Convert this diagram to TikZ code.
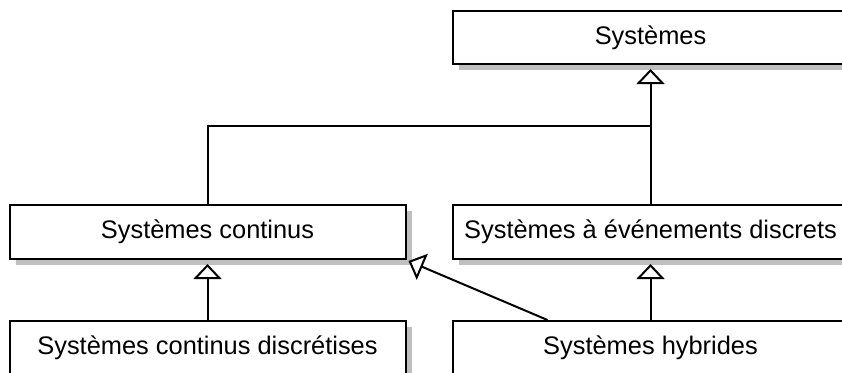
\documentclass[tikz,border=0pt]{standalone}
\usepackage{fontspec}
\setmainfont{Liberation Sans}
\usetikzlibrary{arrows.meta,shadows,calc}
\tikzset{
  cls/.style={draw=black, line width=2pt, fill=white,
    minimum width=396pt, minimum height=54pt, inner sep=0pt,
    font=\fontsize{25.4}{30}\selectfont,
    drop shadow={shadow xshift=6pt, shadow yshift=-6pt, fill=black!25, opacity=1}},
  link/.style={line width=2pt, draw=black},
  gen/.style={link, -{Triangle[open, width=28pt, length=15pt, fill=white]}}
}
\begin{document}
\begin{tikzpicture}[x=1pt, y=-1pt]
  \useasboundingbox (0,0) rectangle (842,372);
  \clip (0,0) rectangle (842,372);

  % classes
  \node[cls, minimum height=53pt] (sys) at (650.5,37.5) {Systèmes};
  \node[cls] (cont) at (207.5,232) {Systèmes continus};
  \node[cls] (sed)  at (650.5,232) {Systèmes à événements discrets};
  \node[cls] (disc) at (207.5,348) {Systèmes continus discrétises};
  \node[cls] (hyb)  at (650.5,348) {Systèmes hybrides};

  % generalisation links
  \coordinate (join) at (650.5,126);
  \draw[link] (cont.north) |- (join);
  \draw[gen] (sed.north) -- ($(sys.south)+(0,4)$);
  \draw[gen] (disc.north) -- ($(cont.south)+(0,4)$);
  \draw[gen] (hyb.north) -- ($(sed.south)+(0,4)$);
  \draw[gen] ($(hyb.north west)+(96,0)$) -- ($(cont.south east)+(2,1)$);
\end{tikzpicture}
\end{document}
